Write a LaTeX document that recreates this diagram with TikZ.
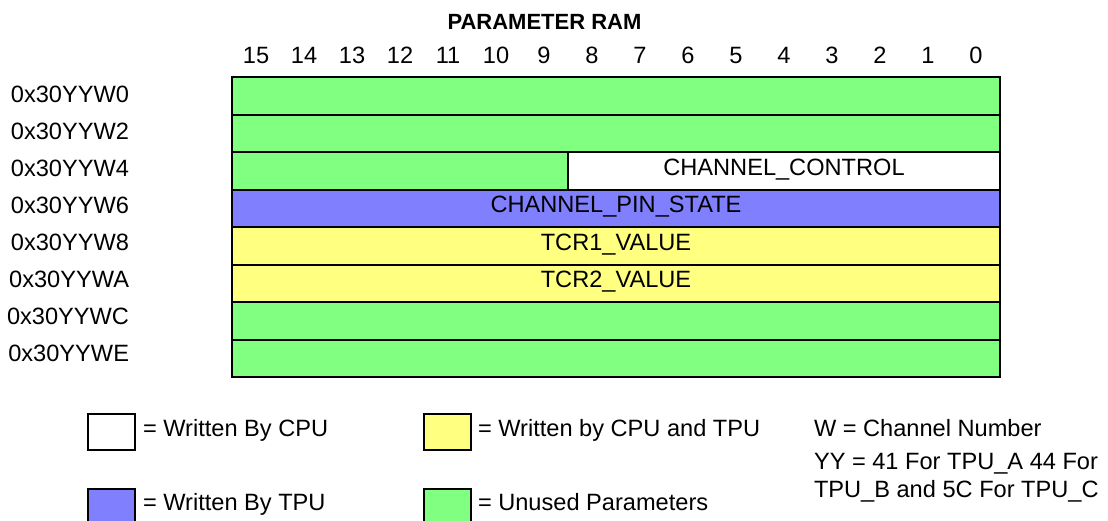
\documentclass[tikz,border=0pt]{standalone}
\usepackage{fontspec}
\setmainfont{Liberation Sans}
\usetikzlibrary{positioning}
\definecolor{unused}{HTML}{80FF80}
\definecolor{bytpu}{HTML}{8080FF}
\definecolor{both}{HTML}{FFFF80}

\begin{document}
\begin{tikzpicture}[x=1pt, y=-1pt, line width=2pt, line join=miter,
    txt/.style={font=\fontsize{23.6}{28}\selectfont, inner sep=0pt, anchor=base},
    keybox/.style={draw, minimum width=47pt, minimum height=36pt, inner sep=0pt}]
    \useasboundingbox (0,0) rectangle (1108,520);

    \coordinate (TL) at (232,77);
    \coordinate (BR) at (1000,377);

    % Рядки таблиці
    \foreach \c [count=\i from 0] in {unused,unused,unused,bytpu,both,both,unused,unused}
        \draw[fill=\c] (232,77+37.5*\i) rectangle (1000,114.5+37.5*\i);
    \draw[fill=white] (568,152) rectangle (1000,189.5);
    \draw (TL) rectangle (BR);

    \node[txt] (ctrl) at (784,175.5) {CHANNEL\_CONTROL};
    \node[txt] (pin) at (616,212.5) {CHANNEL\_PIN\_STATE};
    \node[txt] (tcr1) at (616,250) {TCR1\_VALUE};
    \node[txt] (tcr2) at (616,287.5) {TCR2\_VALUE};

    % Заголовок і номери бітів
    \node[txt, font=\fontsize{22}{26}\selectfont\bfseries] (title) at (544.5,29) {PARAMETER RAM};
    \foreach \b in {0,...,15}
        \node[txt] (bit\b) at (976-48*\b,63) {\b};

    % Адреси
    \foreach \a [count=\i from 0] in {0,2,4,6,8,A,C,E}
        \node[txt, anchor=base east] (addr\a) at (130,102+37.1*\i) {0x30YYW\a};

    % Легенда
    \node[keybox, fill=white] (keycpu) at (111.5,432) {};
    \node[keybox, fill=bytpu] (keytpu) at (111.5,507) {};
    \node[keybox, fill=both] (keyboth) at (447.5,432) {};
    \node[keybox, fill=unused] (keyunused) at (447.5,507) {};
    \node[txt, anchor=base west] (txtcpu) at (142,436) {= Written By CPU};
    \node[txt, anchor=base west] (txttpu) at (142,510) {= Written By TPU};
    \node[txt, anchor=base west] (txtboth) at (477,436) {= Written by CPU and TPU};
    \node[txt, anchor=base west] (txtunused) at (477,510) {= Unused Parameters};

    \node[txt, anchor=base west] (chan) at (813,436) {W = Channel Number};
    \node[txt, anchor=base west] (yy1) at (813,469) {YY = 41 For TPU\_A 44 For};
    \node[txt, anchor=base west] (yy2) at (813,497) {TPU\_B and 5C For TPU\_C};
\end{tikzpicture}
\end{document}
